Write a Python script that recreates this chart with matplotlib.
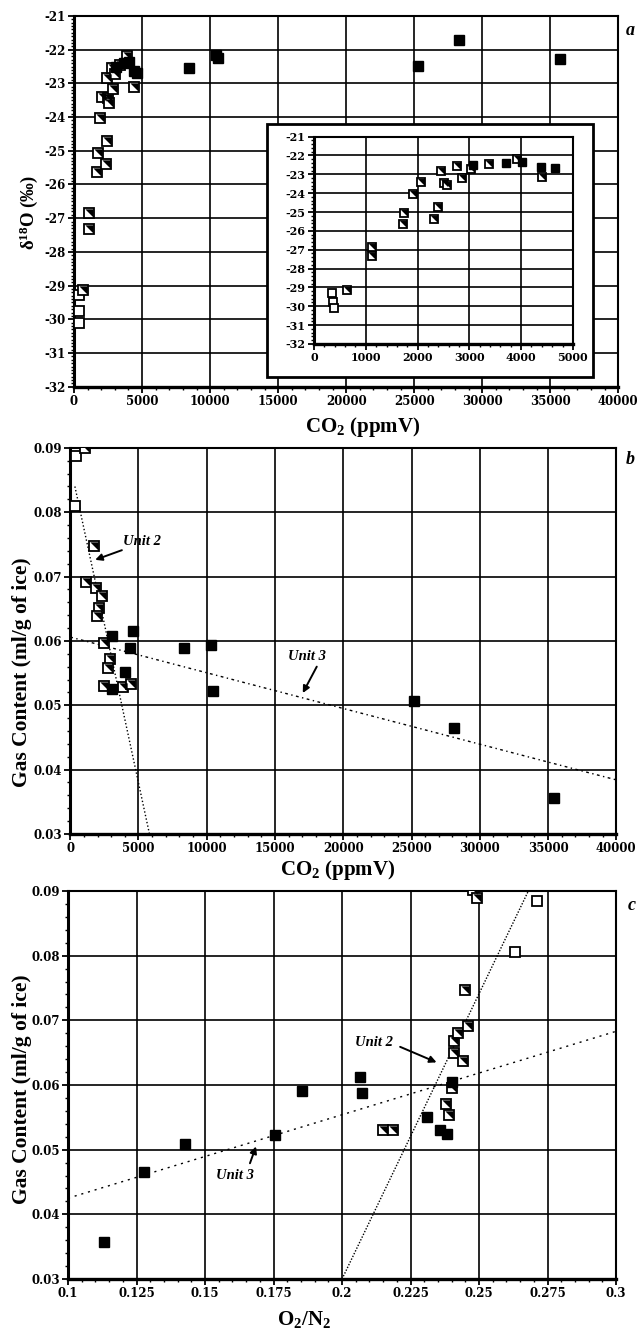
import matplotlib
matplotlib.use('Agg')
import matplotlib.pyplot as plt
from matplotlib.ticker import MultipleLocator, FuncFormatter
from matplotlib.patches import Rectangle

plt.rcParams['font.family'] = ['Liberation Serif', 'DejaVu Serif']
plt.rcParams['font.weight'] = 'bold'
plt.rcParams['axes.unicode_minus'] = False
plt.rcParams['mathtext.fontset'] = 'custom'
plt.rcParams['mathtext.rm'] = 'Liberation Serif:bold'
plt.rcParams['mathtext.bf'] = 'Liberation Serif:bold'
plt.rcParams['mathtext.it'] = 'Liberation Serif:bold:italic'

# ---- panel a : d18O vs CO2 ----
a_open_co2 = [354, 373, 386]
a_open_d18o = [-29.28, -29.75, -30.1]
a_half_co2 = [643, 1126, 1126, 1712, 1744, 1917, 2060, 2323, 2387, 2445, 2503,
              2568, 2755, 2857, 3031, 3372, 3925, 4408]
a_half_d18o = [-29.13, -26.84, -27.31, -25.63, -25.07, -24.04, -23.39, -25.38,
               -24.71, -22.85, -23.44, -23.58, -22.55, -23.17, -22.73, -22.46,
               -22.18, -23.12]
a_fill_co2 = [3077, 3700, 4022, 4382, 4646, 8456, 10400, 10600, 25316, 28331, 35684]
a_fill_d18o = [-22.5, -22.41, -22.36, -22.63, -22.68, -22.55, -22.15, -22.25,
               -22.48, -21.71, -22.28]

# ---- panel b : gas content vs CO2 ----
b_open_co2 = [420, 370]
b_open_gas = [0.0888, 0.0810]
b_half_co2 = [1120, 1757, 1150, 1880, 2365, 2074, 1952, 2489, 2928, 2760, 3902,
              4465, 2511]
b_half_gas = [0.0900, 0.0748, 0.0692, 0.0682, 0.0670, 0.0651, 0.0639, 0.0597,
              0.0572, 0.0558, 0.0528, 0.0533, 0.0530]
b_fill_co2 = [3097, 4634, 4392, 4026, 3097, 8367, 10322, 10490, 25203, 28132, 35454]
b_fill_gas = [0.0607, 0.0616, 0.0589, 0.0552, 0.0526, 0.0589, 0.0593, 0.0522,
              0.0507, 0.0465, 0.0356]
b_unit2_x = [344, 5805]
b_unit2_y = [0.0840, 0.0300]
b_unit3_x = [0, 40000]
b_unit3_y = [0.0606, 0.0384]

# ---- panel c : gas content vs O2/N2 ----
c_open_ratio = [0.2711, 0.2631]
c_open_gas = [0.0885, 0.0806]
c_half_ratio = [0.2151, 0.2185, 0.2378, 0.2391, 0.2403, 0.2410, 0.2424, 0.2410,
                0.2440, 0.2459, 0.2449, 0.2477, 0.2494]
c_half_gas = [0.0530, 0.0530, 0.0570, 0.0554, 0.0595, 0.0668, 0.0680, 0.0649,
              0.0637, 0.0691, 0.0747, 0.0902, 0.0889]
c_fill_ratio = [0.1131, 0.1277, 0.1427, 0.1755, 0.1853, 0.2066, 0.2072, 0.2311,
                0.2358, 0.2382, 0.2400]
c_fill_gas = [0.0358, 0.0466, 0.0509, 0.0522, 0.0590, 0.0613, 0.0587, 0.0550,
              0.0530, 0.0524, 0.0605]
c_unit2_x = [0.2, 0.268]
c_unit2_y = [0.030, 0.090]
c_unit3_x = [0.1, 0.3]
c_unit3_y = [0.0425, 0.0683]

MS = 7
TRI = [(-1, 1), (1, 1), (1, -1), (-1, 1)]
TICKFONT = 'DejaVu Serif'


def points(ax, ox, oy, hx, hy, fx, fy, ms=MS):
    ax.plot(ox, oy, 's', ms=ms, mfc='white', mec='k', mew=1.3, ls='none', zorder=3)
    ax.plot(hx, hy, 's', ms=ms, mfc='white', mec='k', mew=1.3, ls='none', zorder=3)
    ax.plot(hx, hy, marker=TRI, ms=ms - 1, mfc='k', mec='none', ls='none', zorder=3)
    ax.plot(fx, fy, 's', ms=ms, mfc='k', mec='k', ls='none', zorder=4)


def style(ax, xmaj, xmin, ymaj, ymin, lsize=8.5):
    ax.xaxis.set_major_locator(MultipleLocator(xmaj))
    ax.xaxis.set_minor_locator(MultipleLocator(xmin))
    ax.yaxis.set_major_locator(MultipleLocator(ymaj))
    ax.yaxis.set_minor_locator(MultipleLocator(ymin))
    ax.xaxis.set_major_formatter(FuncFormatter(lambda v, p: '%g' % round(v, 4)))
    ax.yaxis.set_major_formatter(FuncFormatter(lambda v, p: '%g' % round(v, 4)))
    ax.grid(True, which='major', color='k', lw=1.2)
    ax.set_axisbelow(True)
    ax.tick_params(which='major', direction='out', length=4, width=1.3, pad=2)
    ax.tick_params(which='minor', direction='out', length=2.5, width=1)
    ax.tick_params(top=False, right=False, which='both')
    ax.spines['left'].set_linewidth(2.2)
    ax.spines['bottom'].set_linewidth(2.4)
    ax.spines['top'].set_linewidth(1.5)
    ax.spines['right'].set_linewidth(1.5)
    for lab in ax.get_xticklabels() + ax.get_yticklabels():
        lab.set_fontfamily(TICKFONT)
        lab.set_fontweight('bold')
        lab.set_fontsize(lsize)


def label(ax, text, txy, start, tip):
    ax.text(txy[0], txy[1], text, fontsize=10.5, fontweight='bold', style='italic',
            ha='center', va='center')
    ax.annotate('', xy=tip, xytext=start,
                arrowprops=dict(arrowstyle='-|>', color='k', lw=1.4, shrinkA=0,
                                shrinkB=0, mutation_scale=10))


fig = plt.figure(figsize=(6.44, 13.29), dpi=100)

# panel a
axa = fig.add_axes([0.115, 0.709, 0.845, 0.279])
points(axa, a_open_co2, a_open_d18o, a_half_co2, a_half_d18o, a_fill_co2, a_fill_d18o)
axa.set_xlim(0, 40000)
axa.set_ylim(-32, -21)
style(axa, 5000, 1000, 1, 0.1)
axa.set_ylabel('δ$^{18}$O (‰)', fontsize=13.5, fontweight='bold')
axa.yaxis.set_label_coords(-0.063, 0.47)
axa.set_xlabel('CO$_2$ (ppmV)', fontsize=15, fontweight='bold')
axa.xaxis.set_label_coords(0.53, -0.075)
fig.text(0.978, 0.977, 'a', fontsize=13, fontweight='bold', style='italic',
         ha='center', va='center')

frame = Rectangle((0.4146, 0.7163), 0.5062, 0.1904, transform=fig.transFigure,
                  facecolor='white', edgecolor='k', lw=2, zorder=1)
fig.patches.append(frame)

axi = fig.add_axes([0.4876, 0.7412, 0.402, 0.156], zorder=2)
points(axi, a_open_co2, a_open_d18o, a_half_co2, a_half_d18o, a_fill_co2, a_fill_d18o, ms=6)
axi.set_xlim(0, 5000)
axi.set_ylim(-32, -21)
style(axi, 1000, 200, 1, 0.2, lsize=8)

# panel b
axb = fig.add_axes([0.109, 0.3725, 0.848, 0.2905])
points(axb, b_open_co2, b_open_gas, b_half_co2, b_half_gas, b_fill_co2, b_fill_gas)
axb.plot(b_unit2_x, b_unit2_y, color='k', lw=1, ls=(0, (1, 1.6)), zorder=2)
axb.plot(b_unit3_x, b_unit3_y, color='k', lw=1, ls=(0, (2, 2.5, 1, 2.5)), zorder=2)
axb.set_xlim(0, 40000)
axb.set_ylim(0.03, 0.09)
style(axb, 5000, 1000, 0.01, 0.002)
axb.set_ylabel('Gas Content (ml/g of ice)', fontsize=15.5, fontweight='bold')
axb.yaxis.set_label_coords(-0.07, 0.42)
axb.set_xlabel('CO$_2$ (ppmV)', fontsize=15, fontweight='bold')
axb.xaxis.set_label_coords(0.49, -0.062)
label(axb, 'Unit 2', (5270, 0.0754), (3785, 0.0741), (1830, 0.0726))
label(axb, 'Unit 3', (17328, 0.0576), (18060, 0.0560), (17035, 0.0519))
fig.text(0.978, 0.654, 'b', fontsize=13, fontweight='bold', style='italic',
         ha='center', va='center')

# panel c
axc = fig.add_axes([0.1056, 0.0376, 0.851, 0.292])
points(axc, c_open_ratio, c_open_gas, c_half_ratio, c_half_gas, c_fill_ratio, c_fill_gas)
axc.plot(c_unit2_x, c_unit2_y, color='k', lw=1, ls=(0, (1, 1.2)), zorder=2)
axc.plot(c_unit3_x, c_unit3_y, color='k', lw=1, ls=(0, (1.5, 3.5)), zorder=2)
axc.set_xlim(0.1, 0.3)
axc.set_ylim(0.03, 0.09)
style(axc, 0.025, 0.005, 0.01, 0.002)
axc.set_ylabel('Gas Content (ml/g of ice)', fontsize=15.5, fontweight='bold')
axc.yaxis.set_label_coords(-0.066, 0.49)
axc.set_xlabel('O$_2$/N$_2$', fontsize=15, fontweight='bold')
axc.xaxis.set_label_coords(0.43, -0.078)
label(axc, 'Unit 2', (0.2115, 0.0666), (0.2212, 0.0659), (0.2345, 0.0635))
label(axc, 'Unit 3', (0.161, 0.0460), (0.1664, 0.0479), (0.1686, 0.0505))
fig.text(0.981, 0.319, 'c', fontsize=13, fontweight='bold', style='italic',
         ha='center', va='center')

fig.savefig('out.png', dpi=100)
